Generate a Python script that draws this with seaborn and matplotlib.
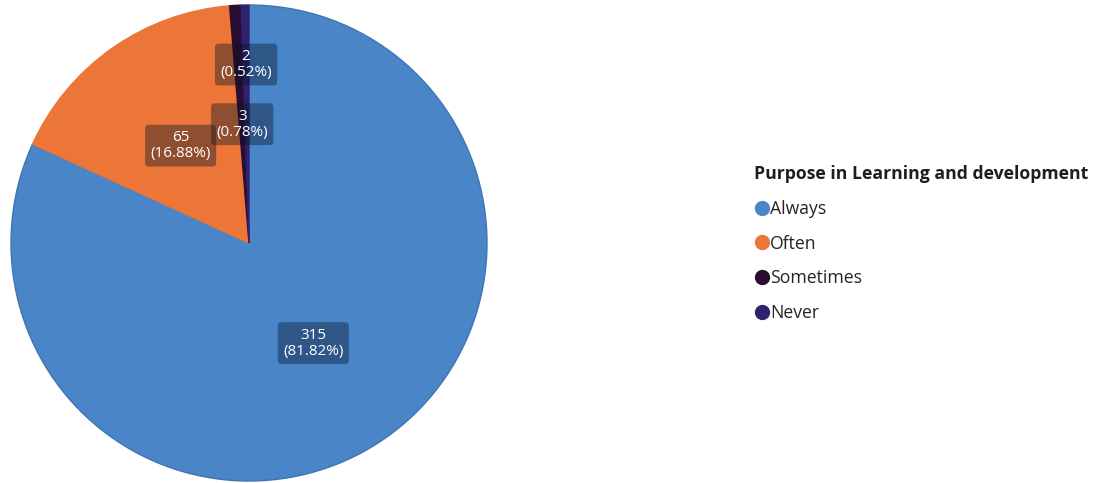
import matplotlib
matplotlib.use("Agg")
import matplotlib.pyplot as plt
from matplotlib.lines import Line2D
import numpy as np
import seaborn as sns

# Survey responses: how often learning and development serves its purpose
categories = ["Always", "Often", "Sometimes", "Never"]
counts = [315, 65, 3, 2]
percent_labels = ["81.82%", "16.88%", "0.78%", "0.52%"]
legend_title = "Purpose in Learning and development"

sns.set_theme(style="white")
plt.rcParams["font.family"] = ["Open Sans", "DejaVu Sans"]

colors = ["#4a85c8", "#ec7538", "#2a0d33", "#2f2370"]

W, H = 1099, 483
fig = plt.figure(figsize=(W / 100, H / 100), dpi=100)

cx, cy, r = 249, 243, 238
ax = fig.add_axes([(cx - r) / W, (H - cy - r) / H, 2 * r / W, 2 * r / H])

wedges, _ = ax.pie(
    counts,
    colors=colors,
    startangle=90,
    counterclock=False,
    radius=1.0,
    wedgeprops=dict(linewidth=1.0),
)
for w, c in zip(wedges, colors):
    w.set_edgecolor(c)
wedges[0].set_edgecolor("#3e75b5")
ax.set_xlim(-1.0, 1.0)
ax.set_ylim(-1.0, 1.0)
ax.set_aspect("equal")
ax.axis("off")

# value labels inside each wedge; the smallest one is pushed outward
label_radius = [0.5, 0.5, 0.5, 0.75]
for w, n, p, rr in zip(wedges, counts, percent_labels, label_radius):
    mid = np.deg2rad((w.theta1 + w.theta2) / 2)
    ax.text(
        rr * np.cos(mid), rr * np.sin(mid), f"{n}\n({p})",
        ha="center", va="center", color="white", fontsize=11,
        linespacing=1.1,
        bbox=dict(boxstyle="round,pad=0.35,rounding_size=0.25",
                  facecolor="#061426", alpha=0.4, edgecolor="none"),
    )

handles = [
    Line2D([0], [0], marker="o", linestyle="none", markersize=10,
           markerfacecolor=c, markeredgecolor=c)
    for c in colors
]
leg = fig.legend(
    handles, categories, title=legend_title,
    loc="upper left", bbox_to_anchor=(754 / W, 1 - 165 / H),
    frameon=False, fontsize=12.7, title_fontsize=12.7,
    alignment="left", handletextpad=0.0, handlelength=0.9,
    labelspacing=0.95, borderaxespad=0, borderpad=0,
)
leg.get_title().set_fontweight("bold")
for t in leg.get_texts():
    t.set_color("#252423")
leg.get_title().set_color("#1e1e1e")

fig.savefig("out.png", dpi=100, facecolor="white")
